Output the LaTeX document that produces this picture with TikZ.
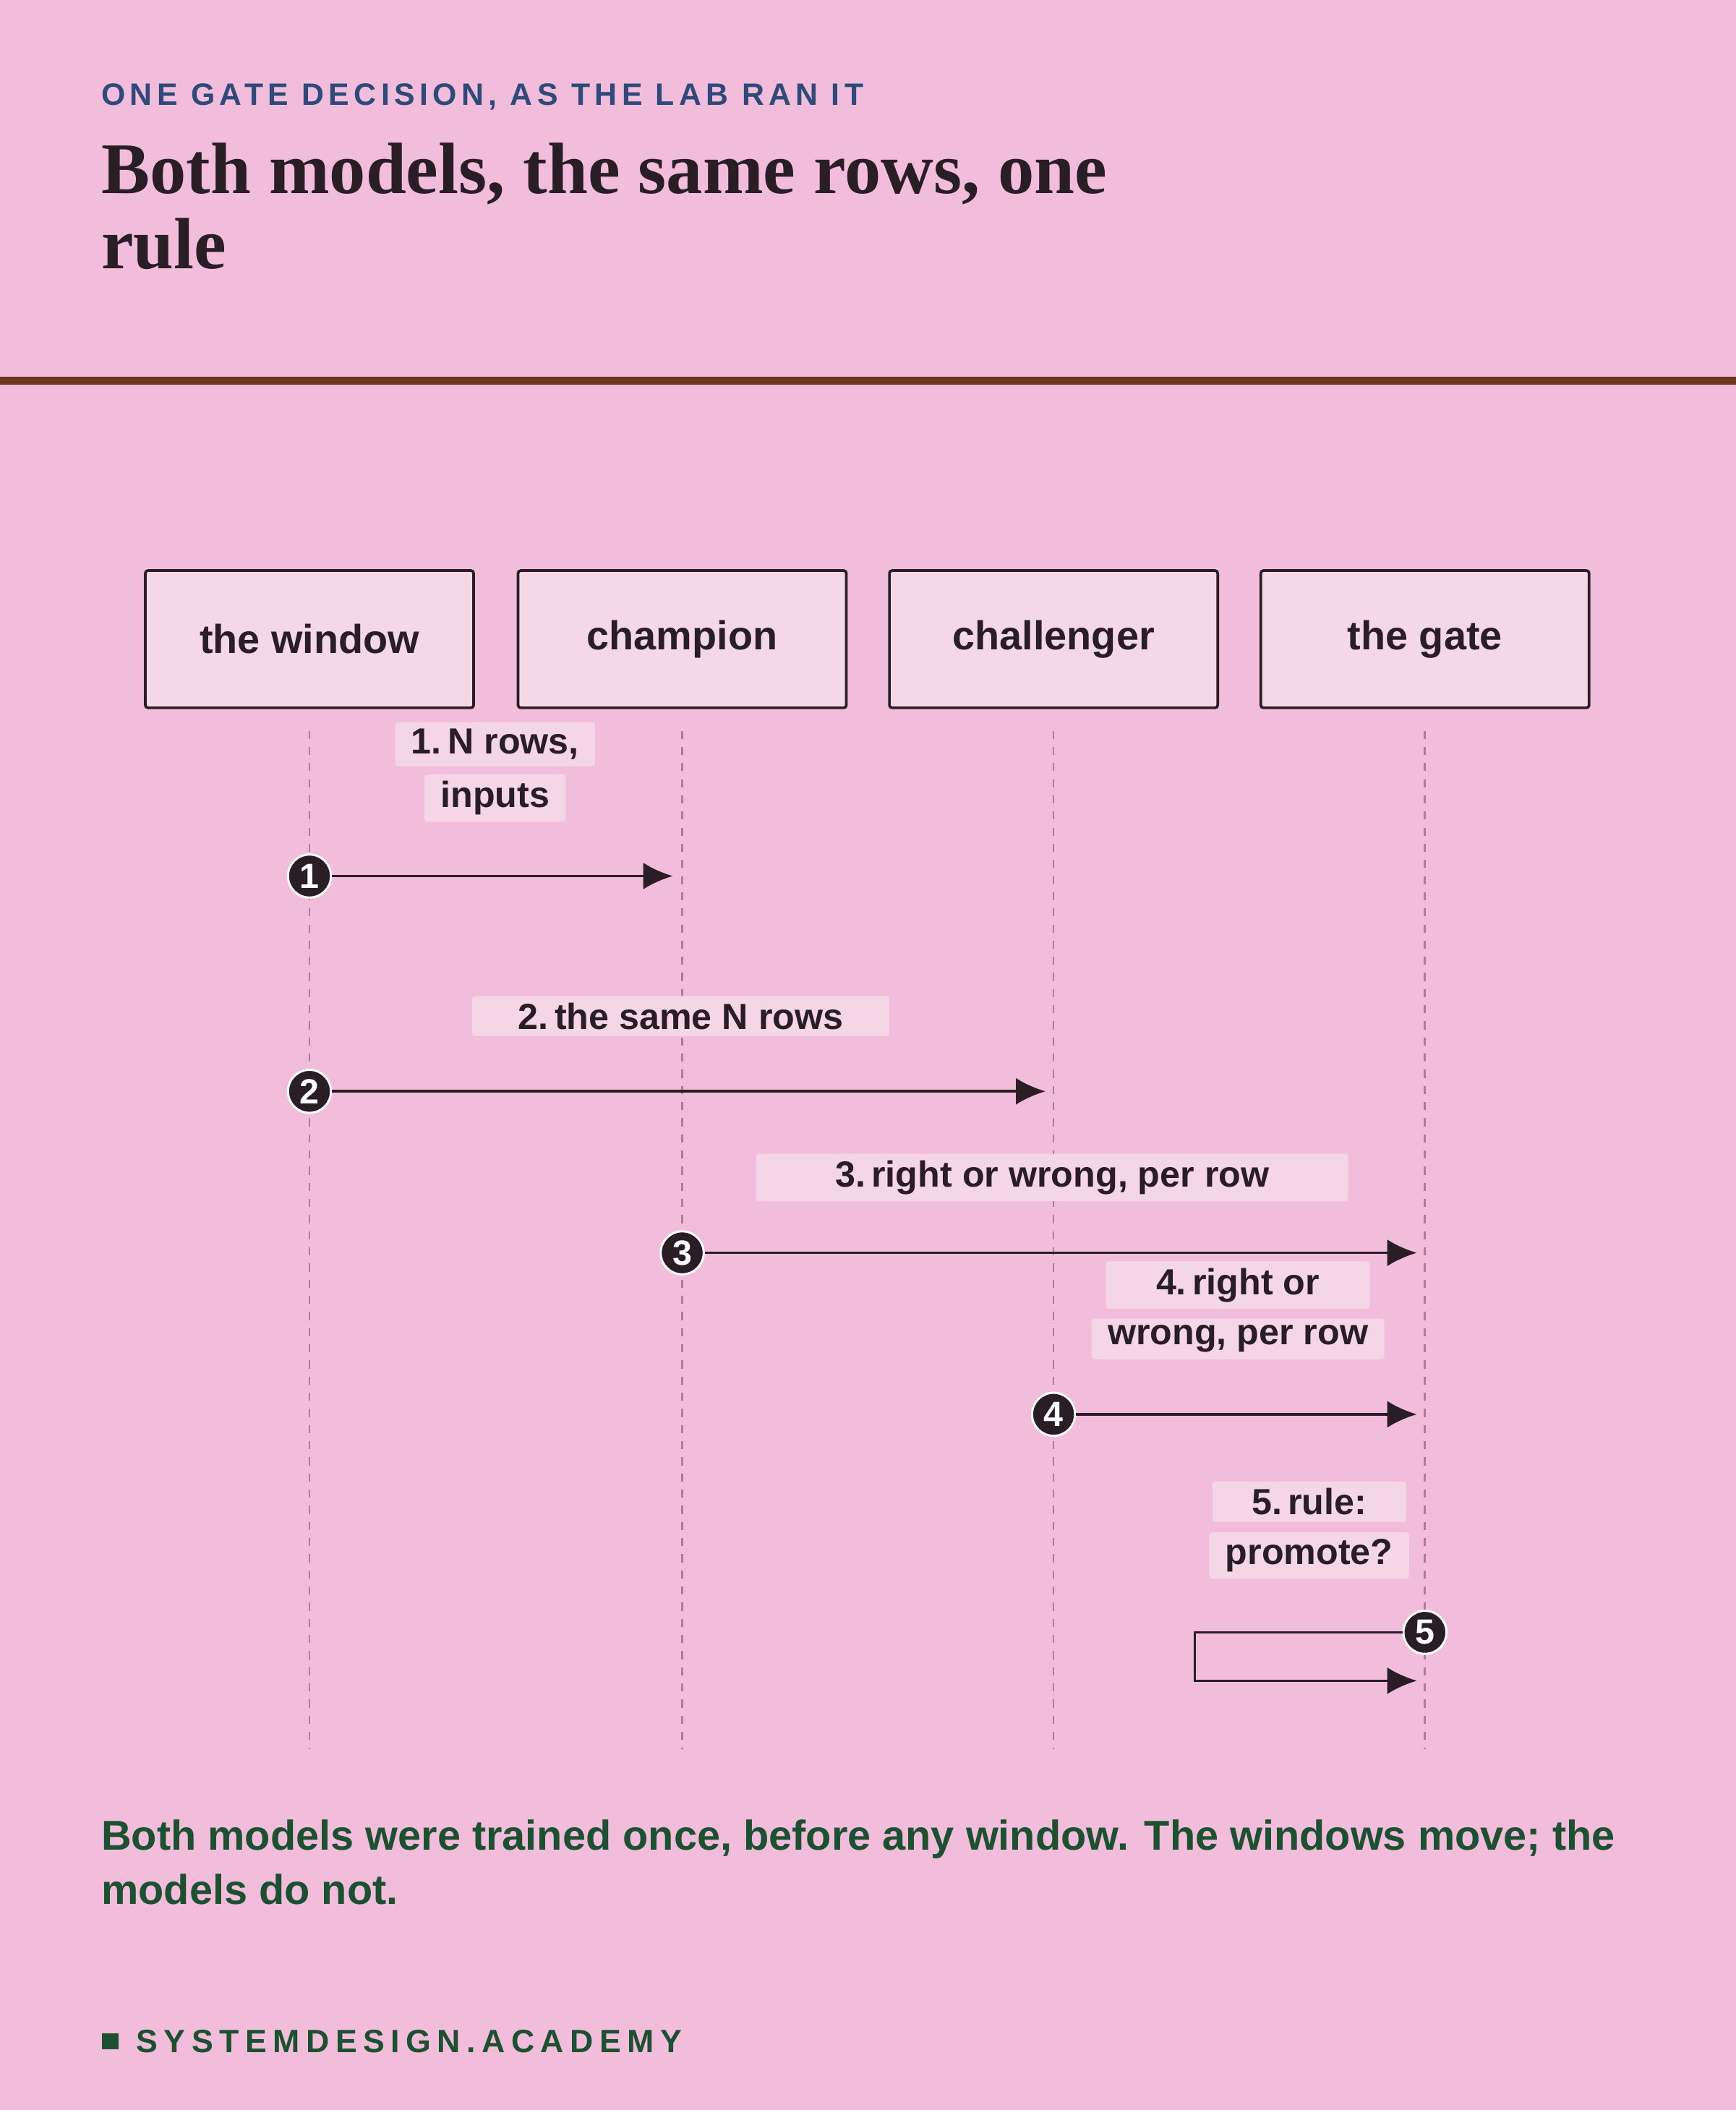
\documentclass[tikz,border=0pt]{standalone}
\usepackage{fontspec}
\setmainfont{Liberation Serif}
\setsansfont{Liberation Sans}
\usetikzlibrary{positioning,arrows.meta}
\definecolor{bgpink}{HTML}{F2BCDB}
\definecolor{boxpink}{HTML}{F5D8E8}
\definecolor{lblpink}{HTML}{F5D6E6}
\definecolor{inkdark}{HTML}{2A1E26}
\definecolor{headblue}{HTML}{2E4A78}
\definecolor{rulebrown}{HTML}{6B3A1A}
\definecolor{footgreen}{HTML}{1B5030}
\definecolor{lifeline}{HTML}{B07A98}
\tikzset{
  actor/.style={draw=inkdark,line width=1pt,fill=boxpink,minimum width=122pt,minimum height=51pt,font=\sffamily\bfseries\fontsize{15}{18}\selectfont,text=inkdark,rounded corners=1pt},
  life/.style={draw=lifeline,line width=0.7pt,dash pattern=on 3pt off 3pt},
  msg/.style={draw=inkdark,line width=1pt,-{Latex[length=11pt,width=10pt]}},
  lbl/.style={fill=lblpink,text=inkdark,font=\sffamily\bfseries\fontsize{13.5}{16}\selectfont,inner xsep=6pt,inner ysep=2.5pt,rounded corners=1pt},
  stepno/.style={circle,fill=inkdark,draw=white,line width=0.8pt,inner sep=0pt,minimum size=16pt,text=white,font=\sffamily\bfseries\fontsize{13}{13}\selectfont}
}
\begin{document}
\begin{tikzpicture}[x=0.5pt,y=-0.5pt]
\fill[bgpink] (0,0) rectangle (1290,1568);
\useasboundingbox (0,0) rectangle (1290,1568);

% header
\node[anchor=west,inner sep=0pt,text=headblue,font=\sffamily\bfseries\fontsize{11.5}{14}\selectfont] (kicker) at (75,72) {\addfontfeature{LetterSpace=15}ONE GATE DECISION, AS THE LAB RAN IT};
\node[anchor=north west,align=left,text=inkdark,font=\bfseries\fontsize{27}{28}\selectfont,inner sep=0pt] (title) at (75,106) {Both models, the same rows, one\\rule};
\fill[rulebrown] (0,280) rectangle (1290,286);

% actors
\node[actor] (window) at (230,475) {the window};
\node[actor] (champ) at (507,475) {champion};
\node[actor] (chall) at (783,475) {challenger};
\node[actor] (gate) at (1059,475) {the gate};
\foreach \a/\x in {window/230,champ/507,chall/783,gate/1059}{
  \coordinate (\a-top) at (\x,543);
  \coordinate (\a-bot) at (\x,1300);
  \draw[life] (\a-top) -- (\a-bot);
}

% messages
\coordinate (m1end) at (500,651);
\node[stepno] (s1) at (230,651) {1};
\draw[msg] (s1) -- (m1end);
\node[lbl] (l1a) at (368,553) {1.\,N rows,};
\node[lbl] (l1b) at (368,593) {inputs};

\coordinate (m2end) at (777,811);
\node[stepno] (s2) at (230,811) {2};
\draw[msg] (s2) -- (m2end);
\node[lbl,minimum width=155pt] (l2) at (506,755) {2.\,the same N rows};

\coordinate (m3end) at (1053,931);
\node[stepno] (s3) at (507,931) {3};
\draw[msg] (s3) -- (m3end);
\node[lbl,minimum width=220pt] (l3) at (782,875) {3.\,right or wrong, per row};

\coordinate (m4end) at (1053,1051);
\node[stepno] (s4) at (783,1051) {4};
\draw[msg] (s4) -- (m4end);
\node[lbl,minimum width=98pt] (l4a) at (920,955) {4.\,right or};
\node[lbl] (l4b) at (920,995) {wrong, per row};

\coordinate (m5end) at (1053,1249);
\node[stepno] (s5) at (1059,1213) {5};
\draw[msg] (s5) -- (888,1213) |- (m5end);
\node[lbl,minimum width=72pt] (l5a) at (973,1116) {5.\,rule:};
\node[lbl] (l5b) at (973,1156) {promote?};

% footer
\node[anchor=north west,align=left,text=footgreen,font=\sffamily\bfseries\fontsize{15.5}{20}\selectfont,inner sep=0pt] (note) at (75,1352) {Both models were trained once, before any window. The windows move; the\\models do not.};
\fill[footgreen] (76,1511) rectangle (88,1523);
\node[anchor=west,inner sep=0pt,text=footgreen,font=\sffamily\bfseries\fontsize{12}{14}\selectfont] (brand) at (101,1517) {\addfontfeature{LetterSpace=19}SYSTEMDESIGN.ACADEMY};
\end{tikzpicture}
\end{document}
